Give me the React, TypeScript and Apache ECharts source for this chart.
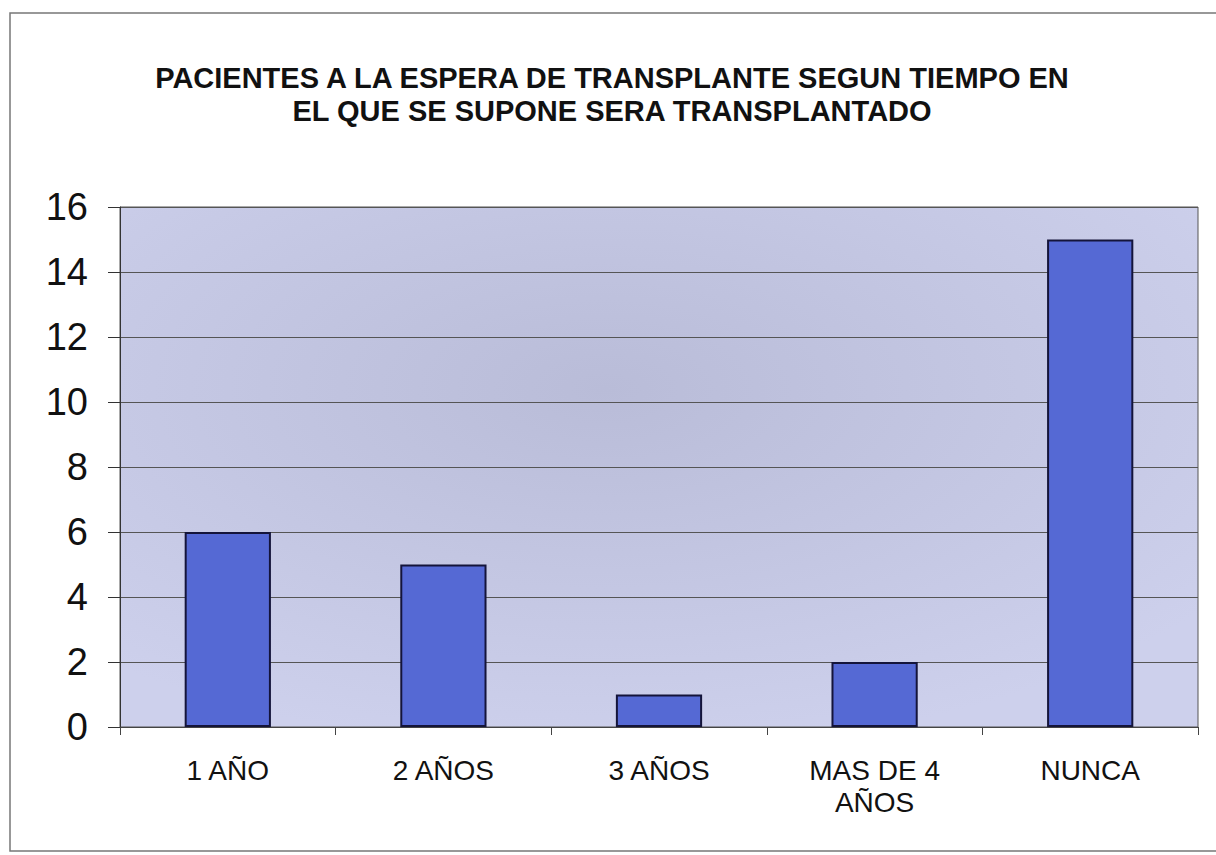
import React, { useEffect, useRef } from "react";
import * as echarts from "echarts";

const categories = ["1 AÑO", "2 AÑOS", "3 AÑOS", "MAS DE 4\nAÑOS", "NUNCA"];
const values = [6, 5, 1, 2, 15];
const titleText = "PACIENTES A LA ESPERA DE TRANSPLANTE SEGUN TIEMPO EN\nEL QUE SE SUPONE SERA TRANSPLANTADO";

export default function App() {
  const ref = useRef<HTMLDivElement>(null);
  useEffect(() => {
    const chart = echarts.init(ref.current!, undefined, { renderer: "svg" });
    chart.setOption({
      animation: false,
      backgroundColor: "#ffffff",
      title: {
        text: titleText,
        left: 607,
        top: 56,
        textAlign: "center",
        textStyle: {
          fontFamily: "Liberation Sans, Arial, sans-serif",
          fontWeight: "bold",
          fontSize: 29,
          lineHeight: 33,
          color: "#111",
        },
      },
      graphic: [
        {
          type: "rect",
          shape: { x: 10, y: 13, width: 1215, height: 838 },
          style: { fill: "none", stroke: "#777", lineWidth: 1.5 },
          silent: true,
        },
      ],
      grid: {
        left: 120,
        top: 207,
        right: 18,
        bottom: 128,
        show: true,
        borderColor: "#555",
        borderWidth: 1,
        backgroundColor: {
          type: "radial",
          x: 0.45,
          y: 0.35,
          r: 0.7,
          colorStops: [
            { offset: 0, color: "#b9bcd8" },
            { offset: 1, color: "#cdd0ec" },
          ],
        },
      },
      xAxis: {
        type: "category",
        data: categories,
        axisLine: { lineStyle: { color: "#444", width: 1 } },
        axisTick: { show: true, length: 8, lineStyle: { color: "#444" } },
        axisLabel: {
          fontFamily: "Liberation Sans, Arial, sans-serif",
          fontSize: 28,
          color: "#111",
          margin: 27,
          lineHeight: 32,
        },
      },
      yAxis: {
        type: "value",
        min: 0,
        max: 16,
        interval: 2,
        axisLine: { show: true, lineStyle: { color: "#333", width: 1 } },
        axisTick: { show: true, length: 12, lineStyle: { color: "#333" } },
        splitLine: { lineStyle: { color: "#555", width: 1 } },
        axisLabel: {
          fontFamily: "Liberation Sans, Arial, sans-serif",
          fontSize: 38,
          color: "#111",
          margin: 32,
        },
      },
      series: [
        {
          type: "bar",
          data: values,
          barWidth: "40%",
          itemStyle: {
            color: "#5569d4",
            borderColor: "#14143a",
            borderWidth: 2,
          },
        },
      ],
    });
    return () => chart.dispose();
  }, []);
  return (
    <div
      ref={ref}
      style={{ position: "fixed", left: 0, top: 0, width: 1216, height: 855 }}
    />
  );
}
